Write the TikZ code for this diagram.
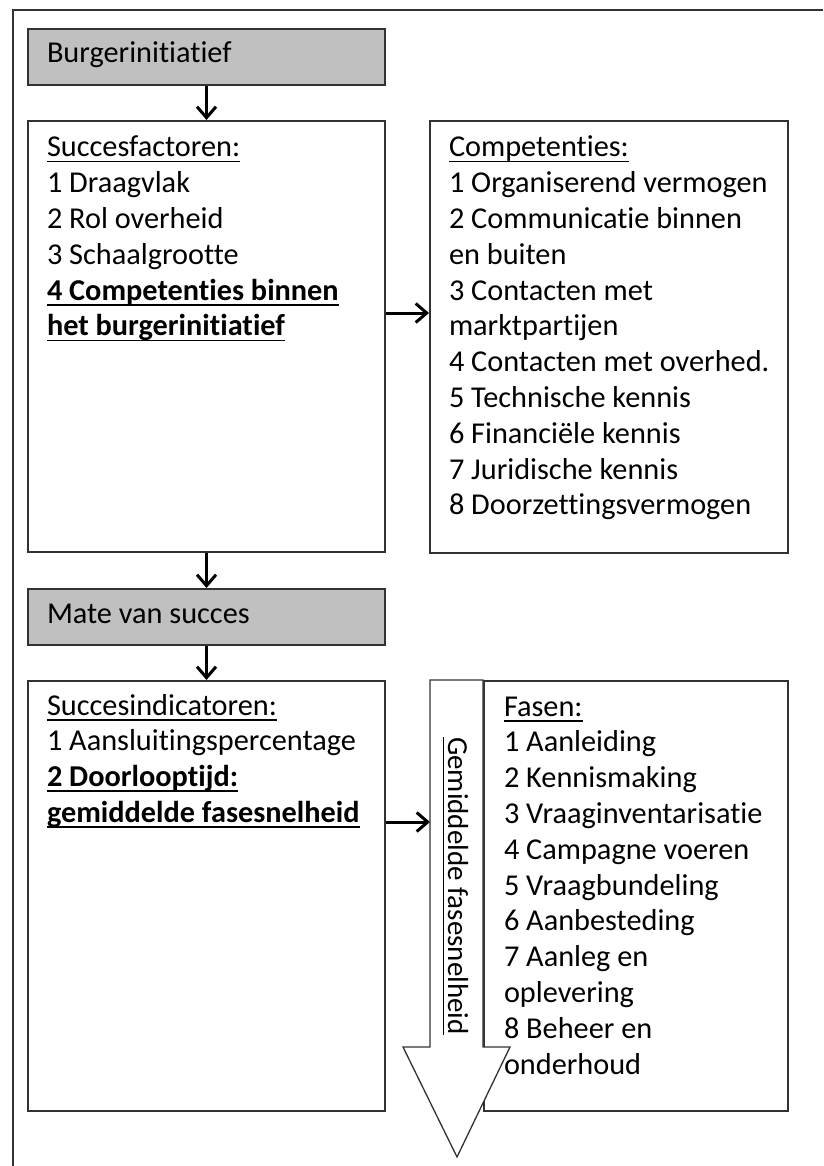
\documentclass[tikz,border=0pt]{standalone}
\usepackage{fontspec}
\setmainfont{Carlito}[RawFeature=-liga]
\usetikzlibrary{arrows.meta}
\definecolor{boxgray}{RGB}{192,192,192}
\definecolor{edge}{RGB}{50,50,50}
\newcommand\ulx[1]{{\setbox0\hbox{#1}\rlap{\rule[-5.5pt]{\wd0}{1.7pt}}\box0}}
\begin{document}
\begin{tikzpicture}[x=1pt,y=-1pt,
  boxs/.style={draw=edge, line width=2pt, anchor=north west, inner sep=0pt},
  graybox/.style={boxs, fill=boxgray},
  txt/.style={anchor=base west, inner sep=0pt, outer sep=0pt, font=\fontsize{30.3}{35.8}\selectfont},
  arr/.style={line width=3pt, -{Straight Barb[length=11pt,width=19pt]}}]
\useasboundingbox (0,0) rectangle (823,1166);
% outer frame
\draw[edge, line width=2pt] (823,10) -- (13,10) -- (13,1166);
% boxes
\node[graybox, minimum width=357, minimum height=56] (burger) at (27,28) {};
\node[boxs, minimum width=357, minimum height=431] (sf) at (27,120) {};
\node[boxs, minimum width=358, minimum height=432] (comp) at (429,120) {};
\node[graybox, minimum width=357, minimum height=56] (mate) at (27,588) {};
\node[boxs, minimum width=357, minimum height=430] (si) at (27,680) {};
\node[boxs, minimum width=304, minimum height=430] (fasen) at (483,680) {};
% connectors
\coordinate (y1) at (0,313);
\draw[arr] (burger.south) -- (sf.north);
\draw[arr] (sf.south) -- (mate.north);
\draw[arr] (mate.south) -- (si.north);
\draw[arr] (sf.east |- y1) -- (comp.west |- y1);
% big arrow
\draw[fill=white, draw=edge, line width=1.3pt, line join=miter]
  (430,680) -- (483,680) -- (483,1047) -- (510,1047) -- (457,1157)
  -- (403,1047) -- (430,1047) -- cycle;
\coordinate (bigL) at (430,822);
\draw[arr] (si.east |- bigL) -- (bigL);
% texts
\node[txt] (tb) at (47,63) {Burgerinitiatief};
\node[txt] (tm) at (47,623) {Mate van succes};
\node[txt] (tsf) at (47,157) {\vtop{\hbox{\ulx{Succesfactoren:}}\hbox{1 Draagvlak}\hbox{2 Rol overheid}\hbox{3 Schaalgrootte}\hbox{\bfseries\ulx{4 Competenties binnen}}\hbox{\bfseries\ulx{het burgerinitiatief}}}};
\node[txt] (tcomp) at (449,157) {\vtop{\hbox{\ulx{Competenties:}}\hbox{1 Organiserend vermogen}\hbox{2 Communicatie binnen}\hbox{en buiten}\hbox{3 Contacten met}\hbox{marktpartijen}\hbox{4 Contacten met overhed.}\hbox{5 Technische kennis}\hbox{6 Financiële kennis}\hbox{7 Juridische kennis}\hbox{8 Doorzettingsvermogen}}};
\node[txt] (tsi) at (47,715) {\vtop{\hbox{\ulx{Succesindicatoren:}}\hbox{1 Aansluitingspercentage}\hbox{\bfseries\ulx{2 Doorlooptijd:}}\hbox{\bfseries\ulx{gemiddelde fasesnelheid}}}};
\node[txt] (tf) at (504,716) {\vtop{\hbox{\ulx{Fasen:}}\hbox{1 Aanleiding}\hbox{2 Kennismaking}\hbox{3 Vraaginventarisatie}\hbox{4 Campagne voeren}\hbox{5 Vraagbundeling}\hbox{6 Aanbesteding}\hbox{7 Aanleg en}\hbox{oplevering}\hbox{8 Beheer en}\hbox{onderhoud}}};
\node[anchor=base west, inner sep=0pt, rotate=-90, font=\fontsize{29}{35}\selectfont] (rot) at (448,737) {\ulx{Gemiddelde fasesnelheid}};
\end{tikzpicture}
\end{document}
